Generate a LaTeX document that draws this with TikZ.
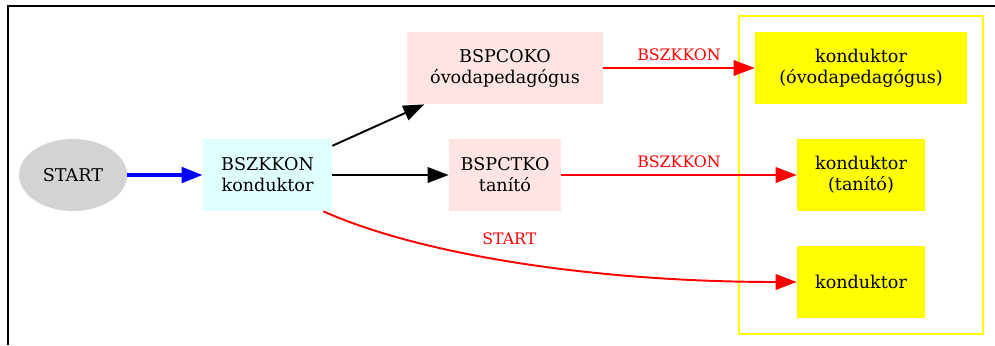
\documentclass[tikz,border=0pt]{standalone}
\usepackage{fontspec}
\setmainfont{DejaVu Serif}
\usepackage{xcolor}
\usepackage{tikz}
\usetikzlibrary{arrows.meta}
\usetikzlibrary{shapes.geometric}
\usetikzlibrary{fit}

\definecolor{startgray}{HTML}{D3D3D3}
\definecolor{lightcyan}{HTML}{E0FFFF}
\definecolor{mistyrose}{HTML}{FFE4E1}
\definecolor{kyellow}{HTML}{FFFF00}
\definecolor{linkred}{HTML}{FF0000}
\definecolor{linkblue}{HTML}{0000FF}

\tikzset{
  startnode/.style={ellipse, fill=startgray, minimum width=2.16cm, minimum height=1.44cm, inner sep=0pt},
  codebox/.style={rectangle, minimum height=1.44cm, align=center, inner sep=0pt},
  kbox/.style={rectangle, fill=kyellow, minimum height=1.44cm, align=center, inner sep=0pt},
  tip/.style={-{Triangle[length=0.42cm,width=0.31cm]}},
  blacklink/.style={tip, line width=1.1pt, black},
  redlink/.style={tip, line width=1.1pt, linkred},
  bluelink/.style={tip, line width=2pt, linkblue},
  linklabel/.style={text=linkred, font=\small}
}

\begin{document}
\begin{tikzpicture}
\useasboundingbox (0,0) rectangle (19.9,-6.9);
% frame
\draw[line width=1.5pt] (0.16,-6.9) -- (0.16,-0.12) -- (19.9,-0.12);

\node[startnode] (start) at (1.46,-3.5) {START};
\node[codebox, fill=lightcyan, minimum width=2.58cm] (bszkkon) at (5.35,-3.5) {BSZKKON\\konduktor};
\node[codebox, fill=mistyrose, minimum width=3.92cm] (bspcoko) at (10.1,-1.36) {BSPCOKO\\óvodapedagógus};
\node[codebox, fill=mistyrose, minimum width=2.24cm] (bspctko) at (10.1,-3.5) {BSPCTKO\\tanító};

\node[kbox, minimum width=4.24cm] (kovoda) at (17.22,-1.36) {konduktor\\(óvodapedagógus)};
\node[kbox, minimum width=2.56cm] (ktanito) at (17.22,-3.5) {konduktor\\(tanító)};
\node[kbox, minimum width=2.56cm] (kplain) at (17.22,-5.64) {konduktor};

% cluster
\node[draw=kyellow, line width=1.1pt, inner sep=0.31cm, fit=(kovoda) (ktanito) (kplain)] (cluster) {};

\draw[bluelink] (start) -- (bszkkon);
\draw[blacklink] (bszkkon) -- (bspcoko);
\draw[blacklink] (bszkkon) -- (bspctko);
\draw[redlink] (bspcoko) -- node[linklabel, above] {BSZKKON} (kovoda);
\draw[redlink] (bspctko) -- node[linklabel, above] {BSZKKON} (ktanito);
\draw[redlink] ([xshift=-0.18cm]bszkkon.south east) .. controls +(-24:2.2) and +(180:3.94) .. node[linklabel, pos=0.47, above=0.2cm] {START} (kplain.west);

\end{tikzpicture}
\end{document}
